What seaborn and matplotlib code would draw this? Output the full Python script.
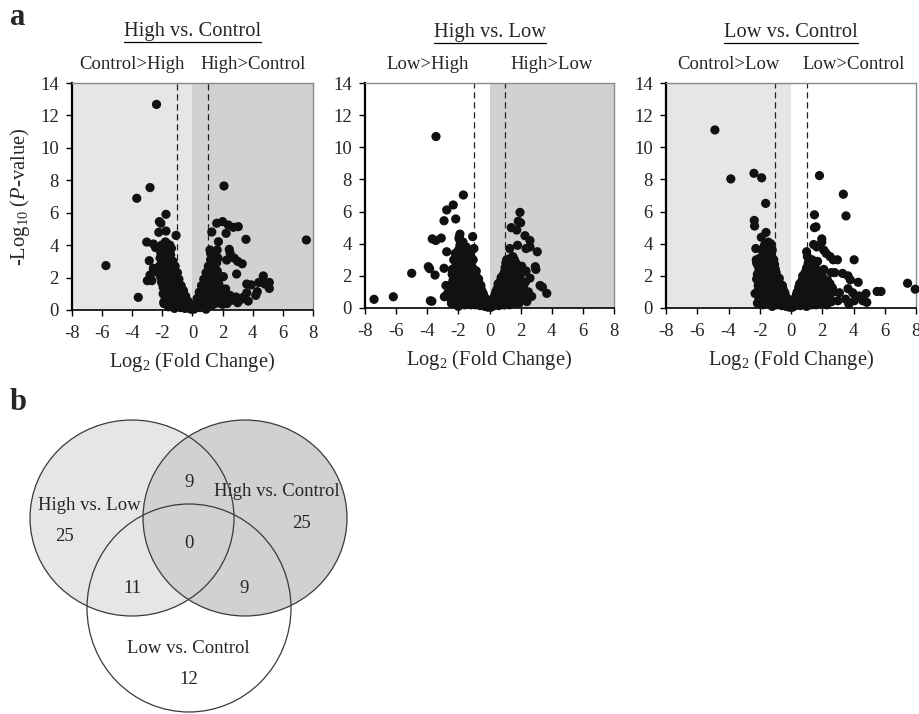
"""
Volcano plots for three pairwise comparisons plus a Venn diagram of the
significant features shared between them.
"""

import matplotlib
matplotlib.use("Agg")
import matplotlib.pyplot as plt
from matplotlib.patches import Ellipse
from matplotlib.lines import Line2D
import seaborn as sns
import pandas as pd

# ---- data: (log2 fold change, -log10 p) ----
high_vs_control = [
    # dense left arm
    (-0.1, 0.05), (-0.15, 0.3), (-0.25, 0.15), (-0.3, 0.55), (-0.4, 0.3), (-0.45, 0.85),
    (-0.5, 0.1), (-0.55, 0.55), (-0.6, 1.2), (-0.65, 0.3), (-0.7, 0.8), (-0.75, 1.5),
    (-0.8, 0.15), (-0.85, 1.1), (-0.9, 1.9), (-0.9, 0.5), (-1.0, 0.25), (-1.0, 1.4),
    (-1.0, 2.3), (-1.05, 0.8), (-1.1, 1.8), (-1.15, 2.7), (-1.2, 0.4), (-1.2, 1.2),
    (-1.25, 2.2), (-1.3, 3.0), (-1.35, 0.7), (-1.35, 1.6), (-1.4, 2.6), (-1.45, 3.4),
    (-1.5, 0.3), (-1.5, 1.1), (-1.55, 2.0), (-1.6, 3.0), (-1.6, 3.8), (-1.65, 0.6),
    (-1.7, 1.5), (-1.7, 2.5), (-1.75, 3.5), (-1.8, 4.2), (-1.85, 0.9), (-1.85, 2.0),
    (-1.9, 3.0), (-1.9, 0.4), (-1.95, 1.4), (-2.0, 2.5), (-2.0, 3.6), (-2.05, 4.0),
    (-2.1, 2.0), (-2.15, 3.2), (-2.2, 2.7), (-2.25, 3.8), (-2.3, 2.3),
    (-0.2, 0.1), (-0.35, 0.4), (-0.55, 0.9), (-0.7, 0.45), (-0.75, 1.25), (-0.95, 1.65),
    (-1.05, 2.0), (-1.1, 1.0), (-1.15, 2.4), (-1.25, 1.45), (-1.3, 2.6), (-1.4, 3.0),
    (-1.45, 1.9), (-1.55, 2.8), (-1.6, 1.3), (-1.65, 3.4), (-1.75, 2.2), (-1.8, 2.8),
    (-1.85, 3.8), (-1.95, 2.2), (-2.0, 3.0), (-2.1, 3.5), (-2.05, 1.7), (-1.6, 0.2),
    (-1.2, 0.1), (-1.7, 4.1), (-1.4, 3.8), (-1.5, 4.0),
    # left outliers
    (-2.39, 12.68), (-2.82, 7.55), (-3.70, 6.89), (-5.75, 2.74), (-3.6, 0.78), (-1.76, 5.9),
    (-2.2, 5.45), (-2.1, 5.35), (-2.24, 4.79), (-1.76, 4.87), (-1.09, 4.6), (-3.04, 4.19),
    (-2.6, 4.07), (-2.45, 3.85), (-2.87, 3.04), (-2.6, 2.57), (-2.82, 2.16), (-3.0, 1.81),
    (-2.7, 1.81), (-1.95, 1.0), (-1.9, 0.5),
    # dense right arm
    (0.1, 0.05), (0.15, 0.35), (0.25, 0.15), (0.3, 0.7), (0.4, 0.4), (0.45, 1.1),
    (0.5, 0.15), (0.55, 0.7), (0.6, 1.5), (0.65, 0.35), (0.7, 1.0), (0.75, 1.9),
    (0.8, 0.2), (0.85, 1.4), (0.9, 2.3), (0.9, 0.6), (1.0, 1.0), (1.0, 1.8),
    (1.05, 2.7), (1.1, 0.3), (1.15, 1.3), (1.2, 2.2), (1.2, 3.1), (1.3, 0.7),
    (1.3, 1.7), (1.35, 2.6), (1.4, 3.4), (1.5, 0.4), (1.5, 1.2), (1.55, 2.1),
    (1.6, 2.9), (1.7, 0.8), (1.75, 1.6), (1.9, 0.4), (1.95, 1.2), (2.1, 0.6),
    (0.2, 0.2), (0.35, 0.5), (0.5, 0.95), (0.65, 1.25), (0.75, 0.6), (0.85, 1.7),
    (0.95, 2.0), (1.0, 0.5), (1.1, 2.4), (1.15, 1.7), (1.25, 2.8), (1.3, 1.0),
    (1.4, 2.0), (1.45, 2.9), (1.55, 1.6), (1.6, 0.6), (1.65, 2.4), (1.7, 3.2),
    (1.85, 2.0), (1.8, 1.0), (1.2, 3.5), (1.35, 3.2), (2.0, 0.9), (1.3, 0.3), (0.9, 0.05),
    # right outliers
    (2.09, 7.65), (7.56, 4.32), (1.28, 4.81), (1.61, 5.35), (2.0, 5.45), (2.38, 5.24),
    (2.71, 5.1), (3.04, 5.14), (2.23, 4.73), (3.55, 4.36), (1.72, 4.21), (1.16, 3.7),
    (1.64, 3.7), (2.44, 3.74), (2.5, 3.5), (2.27, 3.08), (2.77, 3.2), (3.0, 3.0),
    (3.3, 2.85), (2.93, 2.22), (2.05, 2.06), (4.7, 2.1), (4.4, 1.7), (4.8, 1.6),
    (5.1, 1.7), (3.6, 1.6), (3.9, 1.55), (4.3, 1.13), (5.1, 1.33), (3.6, 1.06),
    (1.8, 1.4), (2.2, 1.3), (2.5, 0.9), (2.6, 0.6), (2.9, 0.8), (3.2, 0.65),
    (3.4, 0.8), (3.0, 0.45), (2.0, 0.35), (2.3, 0.4), (3.7, 0.55), (4.2, 0.9),
]

high_vs_low = [
    # dense left arm
    (-0.1, 0.05), (-0.2, 0.35), (-0.3, 0.1), (-0.35, 0.7), (-0.45, 0.35), (-0.5, 1.1),
    (-0.6, 0.15), (-0.6, 0.7), (-0.65, 1.5), (-0.75, 0.4), (-0.8, 1.1), (-0.8, 1.9),
    (-0.9, 0.2), (-0.95, 0.8), (-0.95, 1.5), (-1.0, 2.4), (-1.05, 3.0), (-1.1, 0.5),
    (-1.1, 1.2), (-1.15, 1.9), (-1.2, 2.7), (-1.25, 3.4), (-1.3, 0.3), (-1.3, 0.9),
    (-1.35, 1.6), (-1.4, 2.3), (-1.45, 3.1), (-1.5, 3.8), (-1.55, 0.6), (-1.55, 1.3),
    (-1.6, 2.0), (-1.65, 2.7), (-1.7, 3.4), (-1.75, 0.3), (-1.8, 1.0), (-1.8, 1.7),
    (-1.85, 2.4), (-1.9, 3.1), (-1.9, 3.9), (-1.95, 4.4), (-2.0, 0.6), (-2.05, 1.3),
    (-2.1, 2.0), (-2.15, 2.7), (-2.2, 3.4), (-2.25, 0.3), (-2.3, 1.0), (-2.35, 1.7),
    (-2.4, 2.4), (-2.5, 0.6), (-2.55, 1.4),
    (-0.25, 0.6), (-0.4, 0.9), (-0.55, 1.4), (-0.7, 1.8), (-0.85, 2.3), (-0.9, 1.2),
    (-1.0, 0.6), (-1.05, 1.9), (-1.15, 2.6), (-1.2, 3.2), (-1.25, 1.3), (-1.35, 2.0),
    (-1.4, 3.6), (-1.45, 0.5), (-1.5, 2.6), (-1.6, 3.4), (-1.65, 1.6), (-1.7, 4.1),
    (-1.75, 2.3), (-1.8, 3.5), (-1.9, 1.4), (-1.95, 2.7), (-2.0, 3.6), (-2.1, 0.9),
    (-2.15, 1.7), (-2.2, 2.4), (-2.3, 3.0), (-2.4, 1.3), (-2.45, 0.3), (-1.2, 0.2),
    (-1.6, 0.2), (-2.0, 0.1), (-1.8, 4.0),
    # left outliers
    (-3.44, 10.67), (-1.68, 7.03), (-2.33, 6.41), (-2.75, 6.1), (-2.92, 5.43), (-2.17, 5.54),
    (-3.68, 4.3), (-3.45, 4.2), (-3.1, 4.35), (-2.75, 3.5), (-3.93, 2.57), (-3.85, 2.45),
    (-3.5, 2.05), (-5.0, 2.16), (-6.18, 0.7), (-7.42, 0.54), (-3.8, 0.45), (-3.7, 0.42),
    (-2.92, 2.47), (-2.8, 1.4), (-2.55, 1.35), (-2.9, 0.7), (-2.4, 2.1), (-1.9, 4.6),
    (-1.95, 4.3), (-1.08, 4.44), (-1.0, 3.7), (-2.7, 0.9), (-2.3, 0.35),
    # dense right arm
    (0.1, 0.05), (0.2, 0.4), (0.3, 0.15), (0.35, 0.8), (0.45, 0.4), (0.5, 1.2),
    (0.6, 0.15), (0.6, 0.8), (0.65, 1.6), (0.75, 0.4), (0.8, 1.2), (0.85, 2.0),
    (0.9, 0.2), (0.95, 0.9), (1.0, 1.6), (1.0, 2.5), (1.1, 3.0), (1.1, 0.5),
    (1.15, 1.3), (1.2, 2.1), (1.3, 2.8), (1.3, 0.2), (1.35, 0.9), (1.4, 1.7),
    (1.45, 2.5), (1.5, 3.2), (1.55, 0.5), (1.6, 1.3), (1.65, 2.1), (1.7, 2.8),
    (1.8, 0.9), (1.85, 1.7), (1.9, 0.3), (2.0, 1.2), (2.1, 2.2), (2.2, 0.6), (2.3, 1.6),
    (0.25, 0.6), (0.4, 1.0), (0.55, 1.5), (0.7, 1.0), (0.75, 1.9), (0.9, 1.4),
    (0.95, 2.2), (1.05, 0.8), (1.05, 2.8), (1.2, 1.7), (1.25, 2.5), (1.35, 3.1),
    (1.4, 1.2), (1.5, 2.0), (1.55, 2.8), (1.6, 0.8), (1.75, 1.7), (1.8, 2.4),
    (1.95, 0.7), (1.95, 1.9), (2.2, 1.0), (1.0, 0.2), (1.7, 0.3), (1.6, 3.0),
    # right outliers
    (1.96, 5.95), (1.85, 5.4), (2.0, 5.3), (1.4, 5.0), (1.75, 4.85), (2.28, 4.5),
    (2.6, 4.2), (1.8, 3.9), (2.6, 3.8), (2.35, 3.7), (3.07, 3.5), (1.3, 3.7),
    (2.94, 2.57), (2.98, 2.4), (2.07, 2.6), (2.35, 2.3), (2.6, 1.86), (3.25, 1.4),
    (3.4, 1.3), (3.68, 0.91), (2.71, 0.72), (2.0, 0.7), (1.8, 0.5), (2.2, 1.25),
    (2.5, 1.0), (2.4, 0.4),
]

low_vs_control = [
    # dense left arm
    (-0.1, 0.05), (-0.2, 0.35), (-0.3, 0.1), (-0.35, 0.75), (-0.45, 0.35), (-0.5, 1.15),
    (-0.6, 0.15), (-0.6, 0.75), (-0.7, 1.5), (-0.75, 0.4), (-0.8, 1.1), (-0.85, 1.9),
    (-0.9, 0.2), (-0.95, 0.8), (-1.0, 1.5), (-1.0, 2.4), (-1.1, 3.0), (-1.1, 0.5),
    (-1.15, 1.2), (-1.2, 1.9), (-1.25, 2.6), (-1.3, 3.3), (-1.3, 0.2), (-1.35, 0.9),
    (-1.4, 1.6), (-1.45, 2.3), (-1.5, 3.0), (-1.5, 3.8), (-1.55, 0.5), (-1.6, 1.3),
    (-1.65, 2.0), (-1.7, 2.7), (-1.75, 3.4), (-1.8, 0.2), (-1.85, 0.9), (-1.9, 1.6),
    (-1.95, 2.4), (-2.0, 3.1), (-2.05, 0.6), (-2.1, 1.4), (-2.15, 2.1), (-2.2, 2.8),
    (-2.3, 0.9),
    (-0.25, 0.6), (-0.4, 0.95), (-0.55, 1.4), (-0.7, 1.0), (-0.75, 1.85), (-0.9, 1.4),
    (-0.95, 2.2), (-1.05, 0.9), (-1.05, 2.7), (-1.2, 1.6), (-1.25, 2.3), (-1.35, 3.0),
    (-1.4, 1.2), (-1.5, 2.0), (-1.55, 2.7), (-1.6, 0.8), (-1.7, 1.7), (-1.75, 2.3),
    (-1.8, 3.0), (-1.85, 3.6), (-1.9, 0.5), (-1.95, 1.2), (-2.0, 2.0), (-2.1, 2.6),
    (-2.2, 1.8), (-2.15, 0.3), (-1.45, 4.1), (-1.2, 0.1), (-1.65, 3.5),
    # left outliers
    (-4.87, 11.08), (-3.85, 8.03), (-2.37, 8.38), (-1.88, 8.1), (-1.62, 6.51), (-2.35, 5.45),
    (-2.33, 5.1), (-1.6, 4.7), (-1.9, 4.4), (-2.25, 3.7), (-2.22, 3.0), (-2.05, 2.3),
    (-1.7, 3.9), (-2.1, 1.1), (-1.3, 4.0), (-2.0, 0.5), (-1.2, 3.6),
    # dense right arm
    (0.1, 0.05), (0.2, 0.4), (0.3, 0.15), (0.35, 0.85), (0.45, 0.4), (0.5, 1.3),
    (0.6, 0.15), (0.6, 0.8), (0.7, 1.7), (0.75, 0.4), (0.8, 1.2), (0.85, 2.1),
    (0.9, 0.2), (0.95, 0.9), (1.0, 1.6), (1.0, 2.5), (1.05, 3.2), (1.1, 0.5),
    (1.15, 1.3), (1.2, 2.1), (1.25, 2.8), (1.3, 0.2), (1.35, 0.9), (1.4, 1.7),
    (1.45, 2.5), (1.5, 0.5), (1.55, 1.3), (1.6, 2.1), (1.7, 2.9), (1.75, 0.8),
    (1.8, 1.6), (1.9, 0.3), (1.95, 1.1), (2.0, 2.0), (2.1, 0.6), (2.2, 1.4),
    (2.3, 0.3), (2.4, 0.9),
    (0.25, 0.6), (0.4, 1.0), (0.55, 1.5), (0.7, 1.0), (0.75, 2.0), (0.9, 1.4),
    (0.95, 2.3), (1.05, 0.8), (1.1, 2.8), (1.2, 1.7), (1.3, 2.5), (1.35, 3.0),
    (1.4, 1.2), (1.5, 2.0), (1.55, 2.7), (1.65, 0.6), (1.7, 1.5), (1.8, 2.3),
    (1.85, 1.0), (2.0, 1.5), (2.1, 2.4), (2.15, 0.9), (2.35, 1.7), (2.5, 0.6),
    (1.0, 0.1), (1.6, 0.2),
    # right outliers
    (1.82, 8.24), (3.35, 7.08), (3.52, 5.73), (1.5, 5.8), (1.5, 5.0), (1.6, 5.05),
    (1.97, 4.3), (1.97, 4.1), (1.45, 3.95), (1.65, 3.8), (1.0, 3.5), (2.5, 3.2),
    (2.7, 3.0), (2.97, 3.0), (4.04, 3.0), (2.1, 3.6), (2.25, 3.4), (2.57, 2.2),
    (2.8, 2.2), (3.3, 2.15), (3.65, 2.0), (3.8, 1.75), (4.3, 1.6), (2.5, 1.5),
    (2.65, 1.25), (2.7, 1.0), (3.1, 0.95), (3.65, 1.2), (3.95, 0.95), (3.0, 0.45),
    (3.5, 0.55), (4.05, 0.45), (4.6, 0.45), (4.85, 0.35), (3.7, 0.25), (4.35, 0.75),
    (4.8, 0.9), (5.51, 1.03), (5.76, 1.03), (7.46, 1.54), (7.95, 1.17), (2.0, 0.9),
    (2.2, 1.1), (1.8, 0.3), (2.6, 0.4), (2.3, 0.2),
]

panel_titles = ["High vs. Control", "High vs. Low", "Low vs. Control"]
down_labels = ["Control>High", "Low>High", "Control>Low"]
up_labels = ["High>Control", "High>Low", "Low>Control"]

x_ticks = [-8, -6, -4, -2, 0, 2, 4, 6, 8]
y_ticks = [0, 2, 4, 6, 8, 10, 12, 14]
fc_cutoff = 1

# Venn: set names and region counts
venn_sets = ["High vs. Low", "High vs. Control", "Low vs. Control"]
only_hl, only_hc, only_lc = 25, 25, 12
hl_hc, hl_lc, hc_lc, all_three = 9, 11, 9, 0

# ---- style ----
sns.set_style("ticks")
plt.rcParams["font.family"] = ["Liberation Serif", "DejaVu Serif"]
plt.rcParams["mathtext.fontset"] = "custom"
plt.rcParams["mathtext.rm"] = "Liberation Serif"
plt.rcParams["mathtext.it"] = "Liberation Serif:italic"
plt.rcParams["axes.unicode_minus"] = False

LIGHT = "#e6e6e6"
DARK = "#d0d1d1"
W, H = 920, 714

fig = plt.figure(figsize=(W / 100, H / 100), dpi=100)


def px_axes(left, top, right, bottom):
    return fig.add_axes([left / W, 1 - bottom / H, (right - left) / W, (bottom - top) / H])


def volcano(ax, points, left_fill, right_fill, title, down_lab, up_lab, ylabel):
    df = pd.DataFrame(points, columns=["log2fc", "neglogp"])
    ax.axvspan(-8, 0, color=left_fill, lw=0, zorder=0)
    ax.axvspan(0, 8, color=right_fill, lw=0, zorder=0)
    for xv in (-fc_cutoff, fc_cutoff):
        ax.axvline(xv, color="#222222", ls=(0, (5, 3)), lw=0.9, zorder=1)
    sns.scatterplot(data=df, x="log2fc", y="neglogp", ax=ax, color="#111111",
                    s=44, edgecolor="none", linewidth=0, zorder=3, clip_on=False)
    ax.set_xlim(-8, 8)
    ax.set_ylim(0, 14)
    ax.set_xticks(x_ticks)
    ax.set_yticks(y_ticks)
    ax.tick_params(labelsize=13.5, length=4, width=1, color="black")
    ax.tick_params(axis="x", pad=6.5)
    ax.tick_params(axis="y", pad=5.5)
    for side in ("top", "right"):
        ax.spines[side].set_color("#8a8a8a")
        ax.spines[side].set_linewidth(1.0)
    ax.spines["left"].set_color("black")
    ax.spines["left"].set_linewidth(1.6)
    ax.spines["bottom"].set_color("black")
    ax.spines["bottom"].set_linewidth(1.2)
    ax.set_xlabel(r"Log$_{2}$ (Fold Change)", fontsize=14.8)
    ax.xaxis.set_label_coords(0.5, -0.178)
    if ylabel:
        ax.set_ylabel(r"-Log$_{10}$ ($P$-value)", fontsize=14.8)
        ax.yaxis.set_label_coords(-0.166, 0.5)
    else:
        ax.set_ylabel("")
    tr = ax.get_xaxis_transform()
    t = ax.text(0, 1.205, title, transform=tr, ha="center", va="baseline", fontsize=14.8)
    ax.text(-4, 1.062, down_lab, transform=tr, ha="center", va="baseline", fontsize=13.5)
    ax.text(4, 1.062, up_lab, transform=tr, ha="center", va="baseline", fontsize=13.5)
    return t


boxes = [(72, 83, 313, 310), (365, 83, 614, 308), (666, 83, 916, 308)]
fills = [(LIGHT, DARK), ("white", DARK), (LIGHT, "white")]
datasets = [high_vs_control, high_vs_low, low_vs_control]

titles = []
for i in range(3):
    ax = px_axes(*boxes[i])
    titles.append(volcano(ax, datasets[i], fills[i][0], fills[i][1], panel_titles[i],
                          down_labels[i], up_labels[i], ylabel=(i == 0)))

# ---- Venn diagram ----
vax = px_axes(0, 390, 400, 714)
vax.set_xlim(0, 400)
vax.set_ylim(714, 390)
vax.axis("off")

circ_xy = [(132, 518), (245, 518), (189, 608)]
circ_h = [196, 196, 208]
circ_fill = [LIGHT, DARK, "white"]
for k in [2, 0, 1]:
    vax.add_patch(Ellipse(circ_xy[k], 204, circ_h[k], facecolor=circ_fill[k],
                          edgecolor="none", zorder=1))
for k in range(3):
    vax.add_patch(Ellipse(circ_xy[k], 204, circ_h[k], facecolor="none",
                          edgecolor="#3a3a3a", lw=0.9, zorder=2))

vfs = 13.5
vax.text(89, 510, venn_sets[0], ha="center", va="baseline", fontsize=vfs)
vax.text(277, 496, venn_sets[1], ha="center", va="baseline", fontsize=vfs)
vax.text(188, 653, venn_sets[2], ha="center", va="baseline", fontsize=vfs)
vax.text(65, 541, str(only_hl), ha="center", va="baseline", fontsize=vfs)
vax.text(302, 528, str(only_hc), ha="center", va="baseline", fontsize=vfs)
vax.text(189, 684, str(only_lc), ha="center", va="baseline", fontsize=vfs)
vax.text(189, 487, str(hl_hc), ha="center", va="baseline", fontsize=vfs)
vax.text(132, 593, str(hl_lc), ha="center", va="baseline", fontsize=vfs)
vax.text(244, 593, str(hc_lc), ha="center", va="baseline", fontsize=vfs)
vax.text(189, 548, str(all_three), ha="center", va="baseline", fontsize=vfs)

# panel letters
fig.text(10 / W, 1 - 25 / H, "a", fontsize=22, fontweight="bold", ha="left", va="baseline")
fig.text(10 / W, 1 - 410 / H, "b", fontsize=22, fontweight="bold", ha="left", va="baseline")

# underline the panel titles
fig.canvas.draw()
renderer = fig.canvas.get_renderer()
for t in titles:
    bb = t.get_window_extent(renderer).transformed(fig.transFigure.inverted())
    y = bb.y0 - 1.0 / H
    fig.add_artist(Line2D([bb.x0, bb.x1], [y, y], transform=fig.transFigure,
                          color="black", lw=0.9))

fig.savefig("out.png", dpi=100)
plt.close(fig)
